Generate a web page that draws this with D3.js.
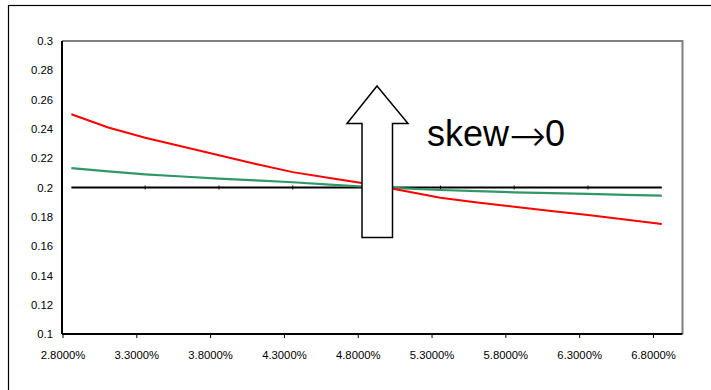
<!DOCTYPE html>
<html>
<head>
<meta charset="utf-8">
<script src="https://cdn.jsdelivr.net/npm/d3@7"></script>
<style>
  html, body { margin: 0; padding: 0; background: #fff; }
  svg { display: block; font-family: Arial, "Liberation Sans", sans-serif; }
</style>
</head>
<body>
<svg id="chart" width="711" height="390"></svg>
<script>
// Rate levels (percent) at which each curve is evaluated
const rates = [2.86, 3.11, 3.36, 3.61, 3.86, 4.11, 4.36, 4.61, 4.86, 5.11, 5.36, 5.61, 5.86, 6.11, 6.36, 6.61, 6.86];
// Flat reference level
const flatSeries = [0.2, 0.2, 0.2, 0.2, 0.2, 0.2, 0.2, 0.2, 0.2, 0.2, 0.2, 0.2, 0.2, 0.2, 0.2, 0.2, 0.2];
// Strong skew
const redSeries = [0.250, 0.241, 0.234, 0.228, 0.222, 0.216, 0.2105, 0.2065, 0.2025, 0.1978, 0.193, 0.1898, 0.1868, 0.1840, 0.1812, 0.1781, 0.1751];
// Mild skew
const greenSeries = [0.2132, 0.2110, 0.2090, 0.2075, 0.2060, 0.2048, 0.2036, 0.2020, 0.2005, 0.1994, 0.1983, 0.1975, 0.1967, 0.1961, 0.1956, 0.1950, 0.1944];

const xTicks = [2.8, 3.3, 3.8, 4.3, 4.8, 5.3, 5.8, 6.3, 6.8];
const yTicks = [0.1, 0.12, 0.14, 0.16, 0.18, 0.2, 0.22, 0.24, 0.26, 0.28, 0.3];
const annotationWord = "skew";
const annotationArrow = "\u2192";
const annotationTarget = "0";

const svg = d3.select("#chart");

// Outer frame
svg.append("rect")
  .attr("x", 8.5).attr("y", 5.5)
  .attr("width", 720).attr("height", 400)
  .attr("fill", "#fff").attr("stroke", "#000").attr("stroke-width", 1.2);

const plot = { left: 62, right: 682.5, top: 41, bottom: 334 };

const x = d3.scaleLinear().domain([2.8, 7.0]).range([plot.left + 0.5, plot.right]);
const y = d3.scaleLinear().domain([0.1, 0.3]).range([plot.bottom, plot.top]);

// Plot area border (top and right in grey)
svg.append("path")
  .attr("d", `M${plot.left},${plot.top}H${plot.right}V${plot.bottom}`)
  .attr("fill", "none").attr("stroke", "#808080").attr("stroke-width", 2);

const labelFont = "Arial, 'Liberation Sans', sans-serif";

// X axis
const xAxis = d3.axisBottom(x)
  .tickValues(xTicks)
  .tickSize(4)
  .tickPadding(13)
  .tickFormat(d => d.toFixed(4) + "%");
const gx = svg.append("g").attr("transform", `translate(0,${plot.bottom})`).call(xAxis);
gx.select(".domain").attr("d", `M${plot.left},0H${plot.right}`).attr("stroke", "#000").attr("stroke-width", 2);
gx.selectAll(".tick line").attr("stroke", "#000").attr("stroke-width", 1);
gx.selectAll(".tick text").attr("font-size", 11.3).attr("fill", "#000").attr("font-family", labelFont);

// Y axis
const yAxis = d3.axisLeft(y)
  .tickValues(yTicks)
  .tickSize(0)
  .tickPadding(9)
  .tickFormat(d => d3.format("~g")(+d.toFixed(2)));
const gy = svg.append("g").attr("transform", `translate(${plot.left},0)`).call(yAxis);
gy.select(".domain").attr("d", `M0,${plot.top}V${plot.bottom}`).attr("stroke", "#000").attr("stroke-width", 2);
gy.selectAll(".tick text").attr("font-size", 11.3).attr("fill", "#000").attr("font-family", labelFont);

const line = d3.line().x((d, i) => x(rates[i])).y(d => y(d));

svg.append("path").datum(flatSeries).attr("d", line)
  .attr("fill", "none").attr("stroke", "#000").attr("stroke-width", 2);

// Small joint marks on the flat line
svg.append("g").selectAll("line")
  .data(rates.filter((r, i) => i % 2 === 0 && i > 0 && i < rates.length - 1))
  .join("line")
  .attr("x1", d => x(d)).attr("x2", d => x(d))
  .attr("y1", y(0.2) - 2).attr("y2", y(0.2) + 2)
  .attr("stroke", "#000").attr("stroke-width", 1);

svg.append("path").datum(greenSeries).attr("d", line)
  .attr("fill", "none").attr("stroke", "#2f9866").attr("stroke-width", 2.2);

svg.append("path").datum(redSeries).attr("d", line)
  .attr("fill", "none").attr("stroke", "#ff0000").attr("stroke-width", 2);

// Up arrow annotation
const arrow = [
  [377, 86], [408, 123.5], [392.5, 123.5], [392.5, 237.5],
  [362, 237.5], [362, 123.5], [347, 123.5]
];
svg.append("path")
  .attr("d", d3.line()(arrow) + "Z")
  .attr("fill", "#fff").attr("stroke", "#000").attr("stroke-width", 1.5);

const label = svg.append("text")
  .attr("x", 427).attr("y", 146)
  .attr("font-size", 36)
  .attr("fill", "#000");
label.append("tspan").text(annotationWord);
label.append("tspan")
  .attr("font-family", "'DejaVu Sans', sans-serif")
  .attr("font-weight", 200)
  .attr("font-size", 44)
  .attr("dx", 0)
  .attr("dy", 5)
  .text(annotationArrow);
label.append("tspan").attr("dx", -1).attr("dy", -5).text(annotationTarget);
</script>
</body>
</html>
